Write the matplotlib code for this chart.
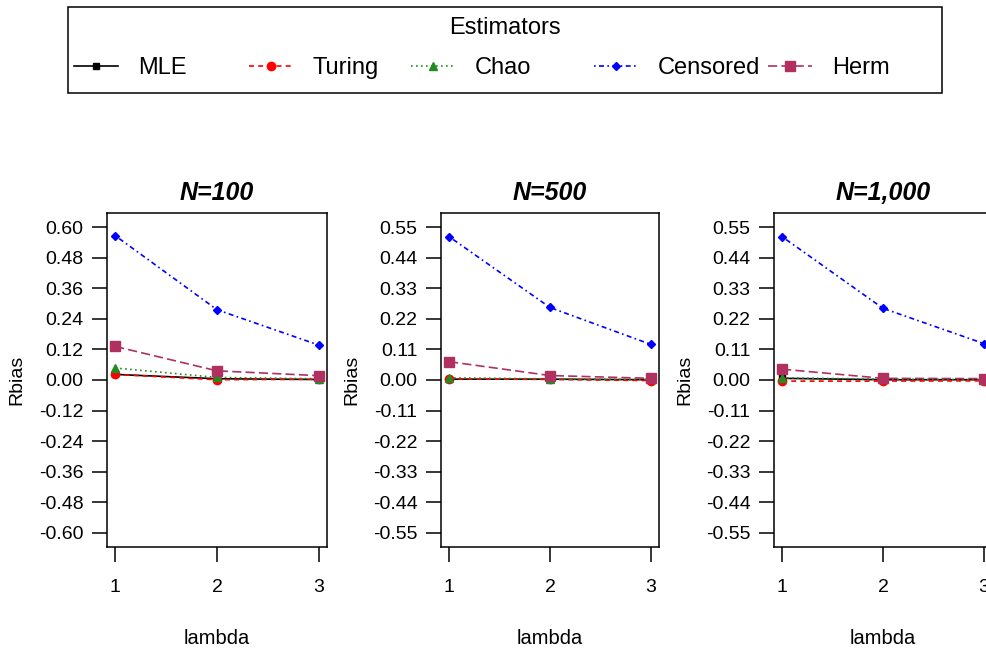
import numpy as np
import matplotlib
matplotlib.use('Agg')
import matplotlib.pyplot as plt
from matplotlib.patches import Rectangle

plt.rcParams['font.family'] = ['Liberation Sans', 'DejaVu Sans']
plt.rcParams['axes.unicode_minus'] = False

lam = [1, 2, 3]
titles = ['N=100', 'N=500', 'N=1,000']
estimators = ['MLE', 'Turing', 'Chao', 'Censored', 'Herm']

# Rbias per estimator, one list per sample size
mle_100 = [0.022, 0.005, 0.002]
turing_100 = [0.022, 0.001, 0.003]
chao_100 = [0.047, 0.010, 0.005]
censored_100 = [0.567, 0.276, 0.137]
herm_100 = [0.132, 0.036, 0.017]

mle_500 = [0.003, 0.003, 0.001]
turing_500 = [0.004, 0.002, -0.002]
chao_500 = [0.008, 0.004, 0.002]
censored_500 = [0.516, 0.261, 0.128]
herm_500 = [0.066, 0.016, 0.006]

mle_1000 = [0.006, 0.001, 0.001]
turing_1000 = [-0.004, -0.004, -0.003]
chao_1000 = [0.008, 0.003, 0.001]
censored_1000 = [0.516, 0.258, 0.131]
herm_1000 = [0.039, 0.006, 0.005]

yticks_100 = [-0.60, -0.48, -0.36, -0.24, -0.12, 0.00, 0.12, 0.24, 0.36, 0.48, 0.60]
yticks_other = [-0.55, -0.44, -0.33, -0.22, -0.11, 0.00, 0.11, 0.22, 0.33, 0.44, 0.55]

panels = [
    [mle_100, turing_100, chao_100, censored_100, herm_100],
    [mle_500, turing_500, chao_500, censored_500, herm_500],
    [mle_1000, turing_1000, chao_1000, censored_1000, herm_1000],
]
yticks_all = [yticks_100, yticks_other, yticks_other]

styles = [
    dict(color='black', marker='s', ms=5, dashes=[]),
    dict(color='#FF0000', marker='o', ms=6, dashes=[3, 2.5]),
    dict(color='#228B22', marker='^', ms=6, dashes=[1, 2]),
    dict(color='#0000FF', marker='D', ms=4, dashes=[1, 2, 3, 2]),
    dict(color='#B03060', marker='s', ms=7, dashes=[5.5, 2.5]),
]

W, H = 987, 655
fig = plt.figure(figsize=(W / 100, H / 100), dpi=100)


def rect(l, t, r, b):
    return [l / W, 1 - b / H, (r - l) / W, (b - t) / H]


boxes = [(107, 213, 327, 547), (441, 213, 659, 547), (774, 213, 992, 547)]

handles = []
for i, (series, yt) in enumerate(zip(panels, yticks_all)):
    ax = fig.add_axes(rect(*boxes[i]))
    for name, vals, st in zip(estimators, series, styles):
        ln, = ax.plot(lam, vals, color=st['color'], marker=st['marker'],
                      ms=st['ms'], lw=1.2, label=name)
        if st['dashes']:
            ln.set_dashes(st['dashes'])
        if i == 0:
            handles.append(ln)
    top = max(yt) * 1.093
    ax.set_ylim(-top, top)
    ax.set_xlim(0.92, 3.08)
    ax.set_xticks(lam)
    ax.set_yticks(yt)
    ax.set_yticklabels([f'{v:.2f}' for v in yt])
    ax.tick_params(direction='out', length=11, width=1.1, labelsize=14)
    ax.tick_params(axis='x', pad=12)
    ax.tick_params(axis='y', pad=6)
    for sp in ax.spines.values():
        sp.set_linewidth(1.1)
    ax.set_title(titles[i], fontsize=18, fontweight='bold', fontstyle='italic', pad=9)
    ax.set_ylabel('Rbias', fontsize=14)
    ax.yaxis.set_label_coords(-0.37, 0.5)
    ax.set_xlabel('lambda', fontsize=14.5)
    ax.xaxis.set_label_coords(0.5, -0.245)

# legend: frame, title and one entry per estimator
fig.patches.append(Rectangle((68 / W, 1 - 93 / H), (942 - 68) / W, 86 / H,
                             transform=fig.transFigure, fill=False, lw=1.1,
                             ec='black'))
fig.text(505 / W, 1 - 28 / H, 'Estimators', ha='center', va='center', fontsize=17)
entry_x = [74, 249, 411, 594, 768]
for h, name, x in zip(handles, estimators, entry_x):
    fig.legend([h], [name], loc='center left',
               bbox_to_anchor=(x / W, 1 - 68 / H), frameon=False, fontsize=17,
               handlelength=1.86, handletextpad=0.85,
               borderpad=0, borderaxespad=0)

fig.savefig('out.png', dpi=100)
